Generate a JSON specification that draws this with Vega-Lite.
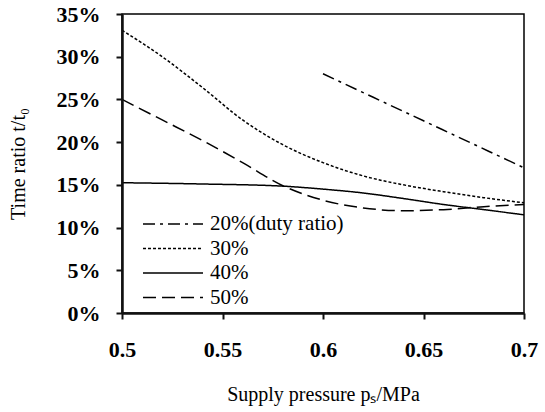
{
  "$schema": "https://vega.github.io/schema/vega-lite/v6.json",
  "width": 402,
  "height": 299,
  "autosize": {"type": "none"},
  "padding": {"left": 122, "top": 14, "right": 21, "bottom": 99},
  "background": "white",
  "config": {"view": {"stroke": "#000", "strokeWidth": 1.5}, "font": "Liberation Serif"},
  "data": {"values": [
    {"p": 0.6, "r": 0.28, "duty": "20%(duty ratio)"},
    {"p": 0.625, "r": 0.2525, "duty": "20%(duty ratio)"},
    {"p": 0.65, "r": 0.225, "duty": "20%(duty ratio)"},
    {"p": 0.675, "r": 0.1975, "duty": "20%(duty ratio)"},
    {"p": 0.7, "r": 0.17, "duty": "20%(duty ratio)"},
    {"p": 0.5, "r": 0.331, "duty": "30%"},
    {"p": 0.52, "r": 0.30, "duty": "30%"},
    {"p": 0.54, "r": 0.264, "duty": "30%"},
    {"p": 0.56, "r": 0.226, "duty": "30%"},
    {"p": 0.58, "r": 0.197, "duty": "30%"},
    {"p": 0.6, "r": 0.176, "duty": "30%"},
    {"p": 0.62, "r": 0.1605, "duty": "30%"},
    {"p": 0.64, "r": 0.15, "duty": "30%"},
    {"p": 0.66, "r": 0.142, "duty": "30%"},
    {"p": 0.68, "r": 0.135, "duty": "30%"},
    {"p": 0.7, "r": 0.129, "duty": "30%"},
    {"p": 0.5, "r": 0.1525, "duty": "40%"},
    {"p": 0.54, "r": 0.151, "duty": "40%"},
    {"p": 0.58, "r": 0.1485, "duty": "40%"},
    {"p": 0.6, "r": 0.145, "duty": "40%"},
    {"p": 0.62, "r": 0.1405, "duty": "40%"},
    {"p": 0.64, "r": 0.134, "duty": "40%"},
    {"p": 0.66, "r": 0.127, "duty": "40%"},
    {"p": 0.68, "r": 0.121, "duty": "40%"},
    {"p": 0.7, "r": 0.115, "duty": "40%"},
    {"p": 0.5, "r": 0.25, "duty": "50%"},
    {"p": 0.52, "r": 0.226, "duty": "50%"},
    {"p": 0.54, "r": 0.202, "duty": "50%"},
    {"p": 0.56, "r": 0.176, "duty": "50%"},
    {"p": 0.58, "r": 0.149, "duty": "50%"},
    {"p": 0.6, "r": 0.132, "duty": "50%"},
    {"p": 0.62, "r": 0.123, "duty": "50%"},
    {"p": 0.64, "r": 0.1197, "duty": "50%"},
    {"p": 0.66, "r": 0.121, "duty": "50%"},
    {"p": 0.68, "r": 0.1245, "duty": "50%"},
    {"p": 0.7, "r": 0.127, "duty": "50%"}
  ]},
  "layer": [
    {
      "mark": {"type": "line", "interpolate": "monotone", "color": "black", "strokeWidth": 1.5},
      "encoding": {
        "x": {
          "field": "p", "type": "quantitative",
          "scale": {"domain": [0.5, 0.7], "nice": false, "zero": false},
          "axis": {
            "title": "Supply pressure pₛ/MPa",
            "tickCount": 4,
            "format": ".2~f",
            "grid": false,
            "zindex": 1,
            "domainColor": "#111111",
            "domainWidth": 2.5,
            "tickColor": "#111111",
            "tickWidth": 2,
            "tickSize": 6,
            "labelFlush": false,
            "labelFont": "Liberation Serif",
            "labelFontWeight": "bold",
            "labelFontSize": 22,
            "labelColor": "#000000",
            "labelPadding": 20,
            "titleFont": "Liberation Serif",
            "titleFontSize": 20,
            "titleFontWeight": "normal",
            "titleColor": "#000000",
            "titlePadding": 24
          }
        },
        "y": {
          "field": "r", "type": "quantitative",
          "scale": {"domain": [0, 0.35], "nice": false},
          "axis": {
            "title": "Time ratio t/t₀",
            "tickCount": 7,
            "format": ".0%",
            "grid": false,
            "zindex": 1,
            "domainColor": "#111111",
            "domainWidth": 2.5,
            "tickColor": "#111111",
            "tickWidth": 2,
            "tickSize": 6,
            "labelFlush": false,
            "labelFont": "Liberation Serif",
            "labelFontWeight": "bold",
            "labelFontSize": 22,
            "labelColor": "#000000",
            "labelPadding": 16,
            "titleFont": "Liberation Serif",
            "titleFontSize": 20,
            "titleFontWeight": "normal",
            "titleColor": "#000000",
            "titlePadding": 28
          }
        },
        "strokeDash": {
          "field": "duty", "type": "nominal",
          "scale": {"domain": ["20%(duty ratio)", "30%", "40%", "50%"], "range": [[12, 5, 3, 5], [3, 2], [1, 0], [13, 6]]},
          "legend": {
            "orient": "none",
            "legendX": 20,
            "legendY": 199,
            "title": null,
            "symbolType": "M-1,0H5",
            "symbolSize": 400,
            "symbolStrokeWidth": 1.5,
            "symbolStrokeColor": "black",
            "labelFont": "Liberation Serif",
            "labelFontSize": 21,
            "labelColor": "black",
            "labelOffset": 46,
            "rowPadding": 3.5
          }
        }
      }
    }
  ]
}
